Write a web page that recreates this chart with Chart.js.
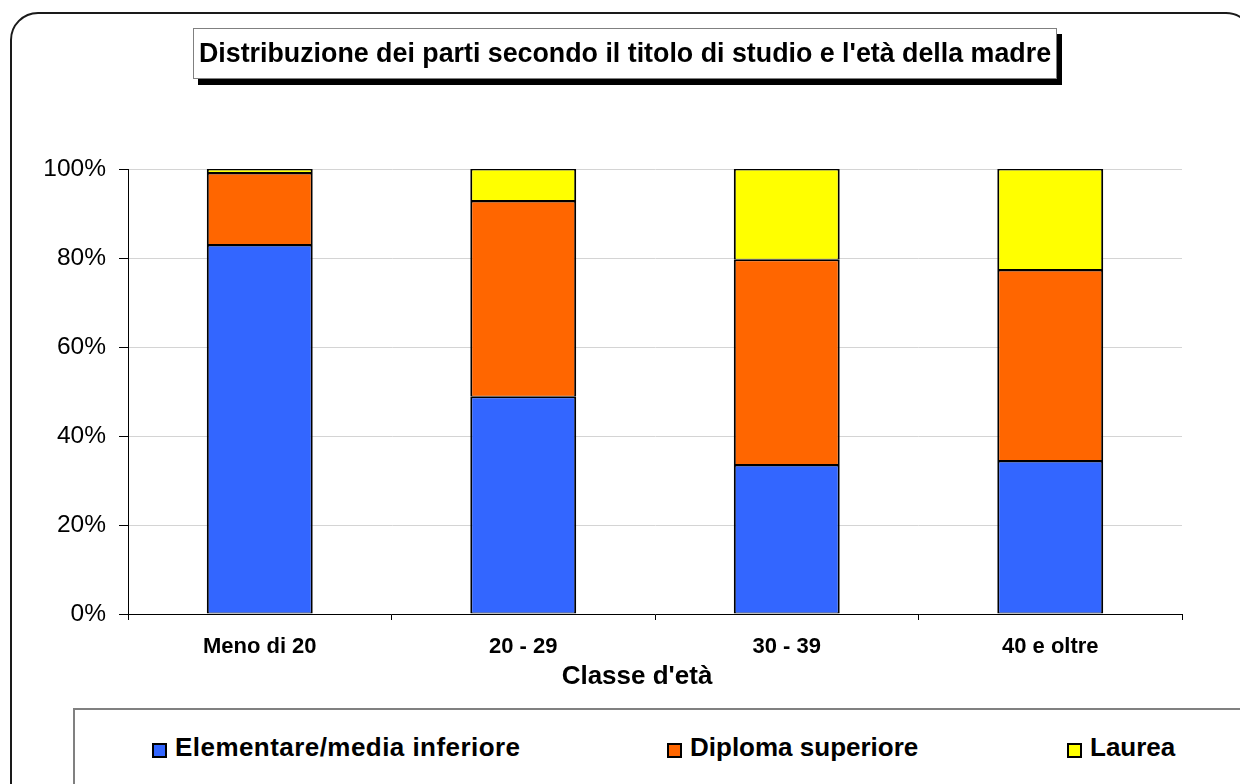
<!DOCTYPE html>
<html>
<head>
<meta charset="utf-8">
<script src="https://cdn.jsdelivr.net/npm/chart.js@4.4.0/dist/chart.umd.min.js"></script>
<style>
	body {
		margin: 0;
		width: 1240px;
		height: 784px;
		overflow: hidden;
		background: #fff;
		position: relative;
		font-family: "Liberation Sans", Arial, sans-serif;
	}
	#frame {
		position: absolute;
		left: 10px;
		top: 12px;
		width: 1240px;
		height: 800px;
		border: 2px solid #1a1a1a;
		border-radius: 28px;
	}
	#wrap {
		position: absolute;
		left: 0;
		top: 0;
		width: 1240px;
		height: 784px;
	}
	#title {
		position: absolute;
		left: 193px;
		top: 28px;
		width: 862px;
		height: 49px;
		border: 1px solid #808080;
		background: #fff;
		box-shadow: 5px 6px 0 #000;
		font-weight: bold;
		font-size: 26.8px;
		line-height: 49px;
		text-align: center;
		color: #000;
	}
	#legend {
		position: absolute;
		left: 73px;
		top: 708px;
		width: 1200px;
		height: 100px;
		border: 2px solid #808080;
		background: #fff;
	}
	.item {
		position: absolute;
		top: 22px;
		height: 30px;
		line-height: 30px;
		font-weight: bold;
		font-size: 26px;
		color: #000;
		white-space: nowrap;
	}
	.item span {
		position: absolute;
		left: 0;
		top: 11px;
		width: 11px;
		height: 11px;
		border: 2px solid #000;
	}
</style>
</head>
<body>
<div id="frame"></div>
<div id="wrap"><canvas id="chart" width="1240" height="784"></canvas></div>
<div id="title">Distribuzione dei parti secondo il titolo di studio e l'età della madre</div>
<div id="legend"></div>

<script>
// Data (percent of births per age class)
const categories = ["Meno di 20", "20 - 29", "30 - 39", "40 e oltre"];
const seriesNames = ["Elementare/media inferiore", "Diploma superiore", "Laurea"];
const elementare = [82.9, 48.8, 33.5, 34.4];
const diploma = [16.2, 44.0, 46.1, 42.9];
const laurea = [0.9, 7.2, 20.4, 22.7];
const yTicks = [0, 20, 40, 60, 80, 100];
const xTitle = "Classe d'età";

const colors = ["#3366FF", "#FF6600", "#FFFF00"];
const legendLeft = [77, 592, 992]; // item positions inside the legend box

const datasets = [elementare, diploma, laurea].map((values, i) => ({
	label: seriesNames[i],
	data: values,
	backgroundColor: colors[i],
	borderColor: "#000",
	borderWidth: { top: 1.5, bottom: 1, left: 2, right: 2 },
	borderSkipped: false,
	barPercentage: 0.402,
	categoryPercentage: 1,
}));

// HTML legend, spread along the bottom box
const legend = document.getElementById("legend");
datasets.forEach((ds, i) => {
	const item = document.createElement("div");
	item.className = "item";
	item.style.left = legendLeft[i] + "px";
	item.style.paddingLeft = "23px";
	if (i === 0) item.style.letterSpacing = "0.45px";
	const box = document.createElement("span");
	box.style.background = ds.backgroundColor;
	item.appendChild(box);
	item.appendChild(document.createTextNode(ds.label));
	legend.appendChild(item);
});

// x axis title sits a bit left of the plot centre in the original
const axisTitle = {
	id: "axisTitle",
	afterDraw(chart) {
		const c = chart.ctx;
		const x = chart.scales.x;
		c.save();
		c.font = "bold 26px 'Liberation Sans'";
		c.fillStyle = "#000";
		c.textAlign = "center";
		c.textBaseline = "middle";
		c.fillText(xTitle, (x.left + x.right) / 2 - 18, x.top + 63);
		c.restore();
	},
};

const ctx = document.getElementById("chart").getContext("2d");
new Chart(ctx, {
	type: "bar",
	data: {
		labels: categories,
		datasets: datasets,
	},
	options: {
		responsive: false,
		animation: false,
		layout: {
			padding: { left: 0, right: 58, top: 169, bottom: 91 },
		},
		plugins: {
			legend: { display: false },
			title: { display: false },
			tooltip: { enabled: false },
		},
		scales: {
			x: {
				stacked: true,
				afterFit: (scale) => {
					scale.height = 79;
				},
				grid: {
					display: true,
					drawOnChartArea: false,
					offset: true,
					tickLength: 6,
					tickColor: "#000",
				},
				border: { color: "#000", width: 1 },
				ticks: {
					color: "#000",
					padding: 14,
					font: { family: "Liberation Sans", size: 22, weight: "bold" },
				},
			},
			y: {
				stacked: true,
				min: 0,
				max: 100,
				afterFit: (scale) => {
					scale.width = 128;
				},
				afterBuildTicks: (scale) => {
					scale.ticks = yTicks.map((v) => ({ value: v }));
				},
				grid: {
					color: "#d4d4d4",
					lineWidth: 1,
					tickLength: 9,
					tickColor: "#000",
				},
				border: { color: "#000", width: 1 },
				ticks: {
					color: "#000",
					padding: 13,
					font: { family: "Liberation Sans", size: 24.5 },
					callback: (v) => v + "%",
				},
			},
		},
	},
	plugins: [axisTitle],
});
</script>
</body>
</html>
